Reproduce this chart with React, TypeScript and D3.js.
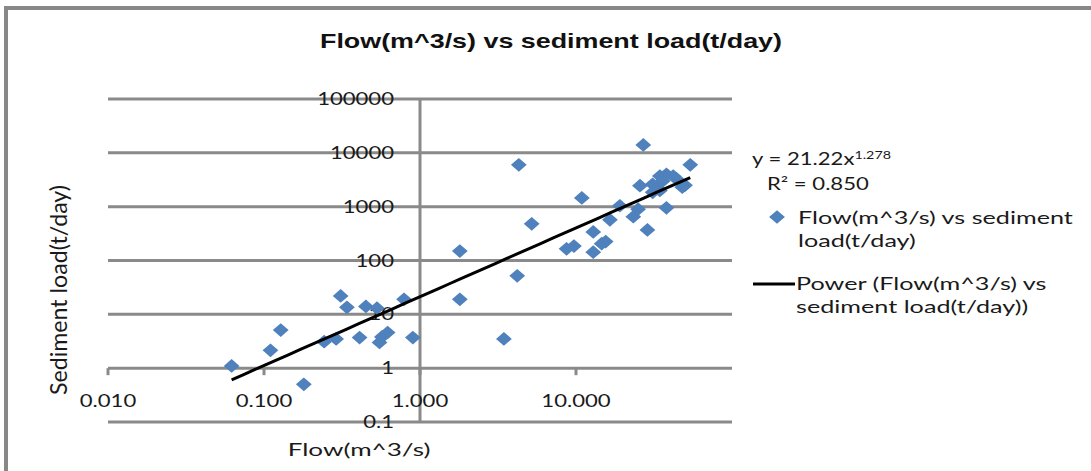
import React from "react";
import * as d3 from "d3";

const flow = [
  0.062, 0.11, 0.128, 0.18, 0.243, 0.29, 0.31, 0.34, 0.41, 0.45, 0.53, 0.55, 0.57, 0.62, 0.79, 0.9,
  1.8, 1.8, 3.45, 4.2, 4.3, 5.2, 8.7, 9.7, 10.9, 12.9, 12.9, 14.6, 15.5, 16.5, 19.1, 23.3, 25, 25.7,
  27, 28.7, 31, 31, 34.5, 34.5, 36, 38, 38, 42, 44, 48, 50, 54,
];
const load = [
  1.1, 2.15, 5.1, 0.5, 3.1, 3.5, 22, 13.5, 3.7, 14, 13, 3.0, 3.8, 4.6, 19, 3.7,
  150, 19, 3.5, 52, 6000, 480, 165, 185, 1450, 340, 143, 205, 225, 570, 1040, 650, 900, 2450,
  14000, 370, 2600, 1850, 3700, 2000, 3000, 4000, 950, 3700, 3300, 2300, 2500, 6000,
];
const yTicks = [0.1, 1, 10, 100, 1000, 10000, 100000];
const yTickLabels = ["0.1", "1", "10", "100", "1000", "10000", "100000"];
const xTicks = [0.01, 0.1, 1, 10, 100];
const xTickLabels = ["0.010", "0.100", "1.000", "10.000"];
const fitA = 21.22;
const fitB = 1.278;
const r2 = "0.850";

const FONT = "Lato, 'Open Sans', sans-serif";
const SX = 1.3;

const T = ({ x, y, anchor = "start", size = 17, sx = SX, children, weight = "normal", fill = "#1a1a1a" }: any) => (
  <text
    transform={`translate(${x},${y}) scale(${sx},1)`}
    textAnchor={anchor}
    fontSize={size}
    fontFamily={FONT}
    fontWeight={weight}
    fill={fill}
  >
    {children}
  </text>
);

export default function App() {
  const x = d3.scaleLog().domain([0.01, 100]).range([108, 732]);
  const y = d3.scaleLog().domain([0.1, 100000]).range([422, 99]);
  const diamond = d3.symbol().type(d3.symbolDiamond2).size(120)() as string;
  const xmin = d3.min(flow) as number;
  const xmax = d3.max(flow) as number;
  const trendX = d3.range(0, 41).map((i) => xmin * Math.pow(xmax / xmin, i / 40));
  const line = d3
    .line<number>()
    .x((d) => x(d))
    .y((d) => y(fitA * Math.pow(d, fitB)));
  const gridColor = "#8a8a8a";
  const LS = 1.4;

  return (
    <svg
      width={1091}
      height={471}
      style={{ position: "absolute", left: 0, top: 0, display: "block", background: "#fff" }}
    >
      <rect x={6} y={8} width={1200} height={600} fill="#fff" stroke="#888" strokeWidth={4} />
      <text
        x={551}
        y={48}
        textAnchor="middle"
        fontFamily="'Liberation Sans', Arial, sans-serif"
        fontWeight="bold"
        fontSize={21}
        textLength={462}
        lengthAdjust="spacingAndGlyphs"
        fill="#111"
      >
        Flow(m^3/s) vs sediment load(t/day)
      </text>

      {yTicks.map((t) => (
        <line key={"g" + t} x1={108} x2={732} y1={y(t)} y2={y(t)} stroke={gridColor} strokeWidth={3} />
      ))}
      <line x1={x(1)} x2={x(1)} y1={y(100000)} y2={y(0.1) + 1} stroke={gridColor} strokeWidth={3} />
      {xTicks.slice(0, 4).map((t) => (
        <line key={"xt" + t} x1={x(t)} x2={x(t)} y1={y(1)} y2={y(1) + 7} stroke={gridColor} strokeWidth={3} />
      ))}

      {yTicks.map((t, i) => (
        <T key={"yl" + t} x={394} y={y(t) + 6} anchor="end">
          {yTickLabels[i]}
        </T>
      ))}
      {xTickLabels.map((l, i) => (
        <T key={"xl" + l} x={x(xTicks[i])} y={407} anchor="middle">
          {l}
        </T>
      ))}

      <T x={359} y={456} anchor="middle" size={18} sx={1.45}>
        Flow(m^3/s)
      </T>
      <text
        transform={`translate(67,290) rotate(-90) scale(1,${SX})`}
        textAnchor="middle"
        fontSize={18}
        fontFamily={FONT}
        fill="#1a1a1a"
        textLength={210}
        lengthAdjust="spacingAndGlyphs"
      >
        Sediment load(t/day)
      </text>

      {flow.map((f, i) => (
        <path
          key={"p" + i}
          d={diamond}
          transform={`translate(${x(f)},${y(load[i])}) scale(1.15,1)`}
          fill="#4f81bd"
        />
      ))}
      <path d={line(trendX) as string} fill="none" stroke="#000" strokeWidth={3} />

      <g>
        <text transform={`translate(752,165) scale(${SX},1)`} fontSize={17} fontFamily={FONT} fill="#1a1a1a">
          y = 21.22x
          <tspan fontSize={11} dy={-6}>
            {fitB.toFixed(3)}
          </tspan>
        </text>
        <T x={767} y={190}>
          R² = {r2}
        </T>
        <path d={diamond} transform="translate(777,217) scale(1.15,1)" fill="#4f81bd" />
        <T x={798} y={224} size={18} sx={LS}>
          Flow(m^3/s) vs sediment
        </T>
        <T x={798} y={247} size={18} sx={LS}>
          load(t/day)
        </T>
        <line x1={753} x2={795} y1={284} y2={284} stroke="#000" strokeWidth={3} />
        <T x={796} y={290} size={18} sx={LS}>
          Power (Flow(m^3/s) vs
        </T>
        <T x={796} y={313} size={18} sx={LS}>
          sediment load(t/day))
        </T>
      </g>
    </svg>
  );
}
